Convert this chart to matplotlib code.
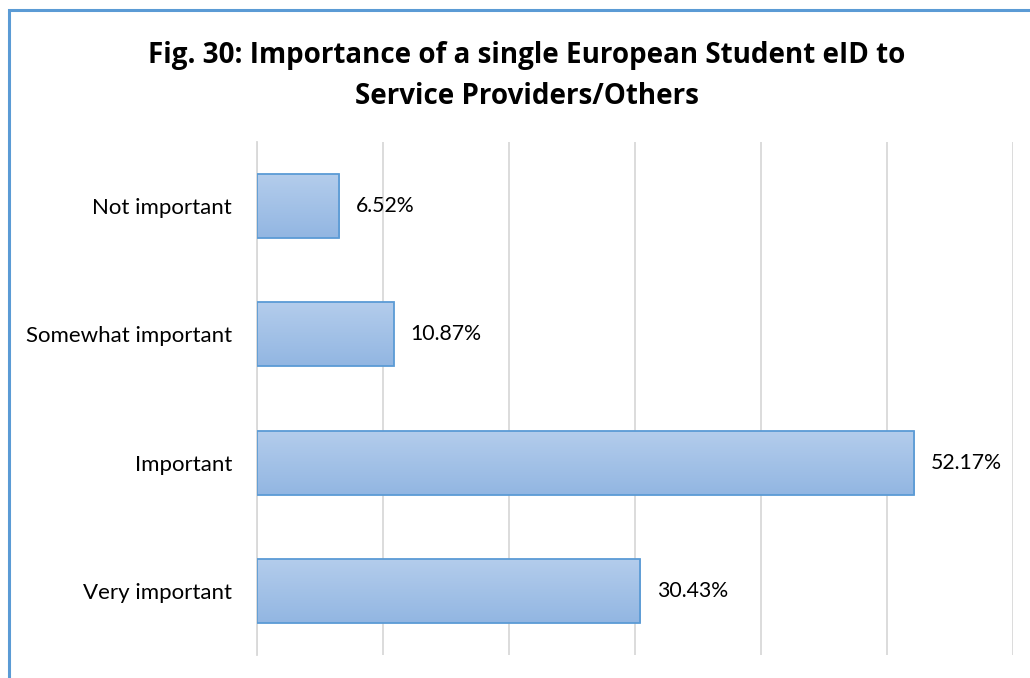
import matplotlib
matplotlib.use("Agg")
import matplotlib.pyplot as plt
import numpy as np
from matplotlib.patches import Rectangle
from matplotlib.colors import LinearSegmentedColormap

categories = ["Not important", "Somewhat important", "Important", "Very important"]
values = [6.52, 10.87, 52.17, 30.43]
value_labels = ["6.52%", "10.87%", "52.17%", "30.43%"]
title = "Fig. 30: Importance of a single European Student eID to\nService Providers/Others"

W, H = 1030, 678
fig = plt.figure(figsize=(W / 100, H / 100), dpi=100)
ax = fig.add_axes([257 / W, 1 - 655 / H, (1013 - 257) / W, (655 - 142) / H])

# frame around chart
frame = Rectangle((8.5 / W, -0.1), 1.2, 1 - 10.5 / H + 0.1, transform=fig.transFigure,
                  fill=False, edgecolor="#5b9bd5", linewidth=2.2, zorder=10)
fig.patches.append(frame)

y = np.arange(len(categories))
cmap = LinearSegmentedColormap.from_list("g", ["#b4cdec", "#92b6e2"])
bars = ax.barh(y, values, height=0.5, color="none", edgecolor="#5b9bd5", linewidth=1.3, zorder=3)
grad = np.linspace(0, 1, 256).reshape(-1, 1)
for b in bars:
    x0, y0 = b.get_x(), b.get_y()
    w, h = b.get_width(), b.get_height()
    im = ax.imshow(grad, cmap=cmap, aspect="auto", extent=(x0, x0 + w, y0 + h, y0),
                   origin="upper", zorder=2, interpolation="bicubic")
    im.set_clip_path(b)

ax.set_xlim(0, 60)
ax.set_ylim(len(categories) - 0.5, -0.5)
ax.set_xticks(np.arange(0, 61, 10))
ax.set_xticklabels([])
ax.grid(axis="x", color="#d9d9d9", linewidth=1.3, zorder=0)
ax.set_axisbelow(True)
for s in ["top", "right", "bottom"]:
    ax.spines[s].set_visible(False)
ax.spines["left"].set_color("#d9d9d9")
ax.spines["left"].set_linewidth(1.3)
ax.tick_params(axis="both", length=0)
ax.set_yticks(y)
ax.set_yticklabels(categories, fontsize=16, fontfamily="Lato", color="#000000")
ax.tick_params(axis="y", pad=18)

for yi, v, lab in zip(y, values, value_labels):
    ax.annotate(lab, (v, yi), xytext=(12, 0), textcoords="offset points",
                ha="left", va="center", fontsize=15.3, fontfamily="Lato", color="#000000")

fig.text(527 / W, 1 - 76 / H, title, ha="center", va="center", fontsize=20,
         fontweight="bold", fontfamily="Open Sans", linespacing=1.55)

fig.savefig("out.png", dpi=100)
